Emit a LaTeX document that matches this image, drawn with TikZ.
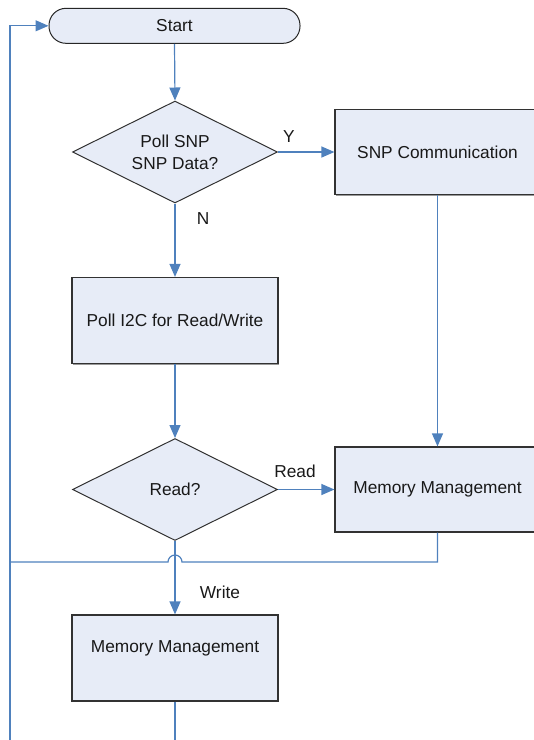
\documentclass[tikz,border=0pt]{standalone}
\usepackage{fontspec}
\setmainfont{Liberation Sans}
\usetikzlibrary{shapes.geometric,arrows.meta,shadows}
\definecolor{boxfill}{RGB}{231,236,247}
\definecolor{flowblue}{RGB}{79,129,189}
\definecolor{edgegray}{RGB}{50,50,50}
\begin{document}
\begin{tikzpicture}[x=1pt,y=-1pt,
  every node/.style={font=\fontsize{17.3}{22}\selectfont, text=black!90},
  boxnode/.style={rectangle, draw=edgegray, line width=1.2pt, fill=boxfill,
    minimum width=205pt, minimum height=85pt, inner sep=0pt, align=center,
    drop shadow={shadow xshift=1pt, shadow yshift=-1pt, fill=black!40, opacity=1}},
  decnode/.style={diamond, aspect=2, draw=edgegray, line width=1pt, fill=boxfill,
    minimum width=205pt, minimum height=102pt, inner sep=0pt, align=center},
  termnode/.style={rectangle, rounded corners=17pt, draw=black!85, line width=1pt, fill=boxfill,
    minimum width=251pt, minimum height=35pt, inner sep=0pt},
  lbl/.style={inner sep=0pt},
  flow/.style={draw=flowblue, line width=1.2pt},
  arr/.style={flow, -{Triangle[length=13pt,width=11pt]}}
]
\useasboundingbox (0,0) rectangle (534,740);

\node[termnode] (start) at (174.5,25.8) {Start};
\node[decnode] (d1) at (175,152) {Poll SNP\\SNP Data?};
\node[boxnode] (snp) at (437.5,152) {SNP Communication};
\node[boxnode, minimum width=206pt, minimum height=86pt] (i2c) at (175,320.5) {Poll I2C for Read/Write};
\node[decnode] (d2) at (175,489.5) {Read?};
\node[boxnode] (mm1) at (437.5,489.5) {Memory Management};
\node[boxnode, minimum width=206pt, minimum height=86pt] (mm2) at (175,658) {};
\node[lbl] (mm2t) at (175,648) {Memory Management};

\node[lbl] (ly) at (289,137) {Y};
\node[lbl] (ln) at (203,219) {N};
\node[lbl] (lr) at (295,471) {Read};
\node[lbl] (lw) at (220,592) {Write};

\coordinate (loopb) at (10,770);
\coordinate (jr) at (182,562);
\coordinate (jl) at (10,562);

\draw[arr] (start.south) -- (d1.north);
\draw[arr] (d1.east) -- (snp.west);
\draw[arr] (d1.south) -- (i2c.north);
\draw[arr] (i2c.south) -- (d2.north);
\draw[arr] (d2.east) -- (mm1.west);
\draw[arr] (snp.south) -- (mm1.north);
\draw[arr] (d2.south) -- (mm2.north);
\draw[flow] (mm1.south) |- (jr) arc[start angle=0, end angle=180, radius=7pt] -- (jl);
\draw[arr] (mm2.south) |- (loopb) |- (start.west);
\end{tikzpicture}
\end{document}
